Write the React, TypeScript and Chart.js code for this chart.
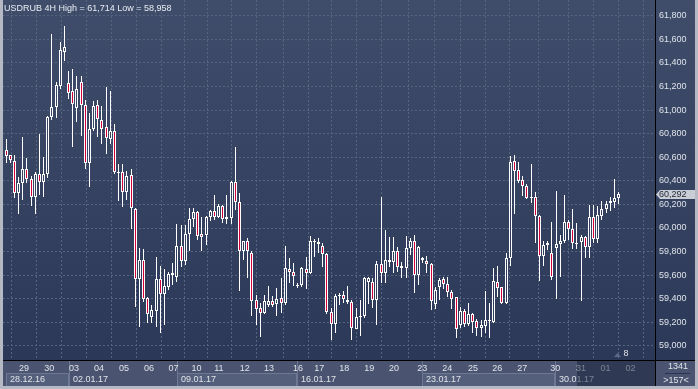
import { useEffect, useRef } from "react";
import { Chart, registerables } from "chart.js";

Chart.register(...registerables);

// ---- data (4H candles, USDRUB) ----
const FIRST_INDEX = -1;
const opens = [
  60650,
  60659, 60616, 60566, 60294, 60379, 60500, 60413, 60260, 60455, 60388,
  60455, 60944, 61023, 61206, 61495, 61227, 61162, 61015, 61235, 61040,
  60554, 60839, 61040, 60913, 60854, 60757, 60820, 60472, 60472, 60303,
  60449, 60161, 59565, 59729, 59404, 59243, 59299, 59565, 59438, 59503,
  59602, 59582, 59848, 59723, 59947, 60074, 60136, 59947, 59938, 60096,
  60144, 60096, 60187, 60074, 60082, 60388, 60218, 59808, 59890, 59786,
  59390, 59320, 59277, 59347, 59381, 59353, 59407, 59362, 59653, 59625,
  59517, 59517, 59653, 59621, 59890, 59884, 59848, 59777, 59286, 59184,
  59428, 59432, 59390, 59370, 59144, 59243, 59257, 59540, 59540, 59390,
  59692, 59616, 59729, 59715, 59805, 59678, 59659, 59828, 59890, 59602,
  59748, 59720, 59692, 59353, 59503, 59565, 59525, 59455, 59413, 59178,
  59297, 59184, 59271, 59212, 59150, 59172, 59216, 59206, 59540, 59498,
  59362, 59743, 60568, 60492, 60407, 60356, 60252, 60266, 60104, 59765,
  59856, 59786, 59828, 59862, 59890, 60054, 59989, 59862, 59884, 59921,
  59837, 60096, 59907, 60102, 60159, 60210, 60223, 60252,
];
const highs = [
  60690,
  60755, 60622, 60619, 60430, 60769, 60596, 60441, 60472, 60797, 60605,
  60950, 61645, 61238, 61574, 61714, 61331, 61348, 61289, 61289, 61085,
  60978, 61079, 61085, 61034, 61196, 61162, 60882, 60543, 60543, 60483,
  60500, 60170, 59828, 59822, 59415, 59347, 59757, 59681, 59650, 59630,
  59701, 60034, 60026, 60026, 60167, 60167, 60144, 60096, 60102, 60153,
  60280, 60204, 60195, 60280, 60399, 60687, 60294, 59893, 59913, 59805,
  59432, 59362, 59432, 59509, 59424, 59489, 59579, 59848, 59748, 59701,
  59537, 59672, 59752, 59932, 59904, 59913, 59870, 59786, 59320, 59441,
  59447, 59469, 59509, 59390, 59320, 59390, 59587, 59587, 59574, 59720,
  60266, 59983, 59921, 59921, 59842, 59715, 59932, 59913, 59941, 59848,
  59757, 59763, 59701, 59503, 59579, 59587, 59587, 59475, 59418, 59333,
  59311, 59367, 59282, 59226, 59220, 59466, 59362, 59664, 59678, 59502,
  59786, 60613, 60619, 60557, 60444, 60373, 60540, 60308, 60110, 59893,
  59890, 60054, 60314, 59941, 60280, 60068, 60159, 60040, 59941, 59932,
  60195, 60195, 60187, 60232, 60232, 60260, 60413, 60308,
];
const lows = [
  60630,
  60554, 60549, 60255, 60116, 60238, 60382, 60189, 60116, 60280, 60266,
  60422, 60916, 60935, 61179, 61418, 61094, 60689, 60901, 60783, 60500,
  60350, 60822, 60769, 60712, 60628, 60712, 60458, 60232, 60181, 60238,
  59992, 59333, 59164, 59375, 59192, 59197, 59164, 59108, 59178, 59475,
  59517, 59545, 59672, 59687, 59808, 60006, 59898, 59808, 59856, 60062,
  60068, 60082, 60045, 60034, 60034, 60153, 59469, 59729, 59579, 59254,
  59178, 59079, 59270, 59328, 59333, 59257, 59277, 59347, 59531, 59509,
  59494, 59503, 59481, 59610, 59757, 59786, 59672, 59271, 59051, 59113,
  59347, 59362, 59356, 59051, 59141, 59085, 59235, 59356, 59320, 59178,
  59531, 59531, 59672, 59616, 59630, 59574, 59574, 59771, 59447, 59517,
  59701, 59616, 59305, 59311, 59390, 59481, 59418, 59311, 59065, 59150,
  59164, 59170, 59113, 59085, 59079, 59113, 59065, 59197, 59418, 59356,
  59356, 59678, 60119, 60379, 60271, 60243, 60215, 59870, 59553, 59678,
  59814, 59559, 59398, 59587, 59876, 59898, 59820, 59820, 59384, 59748,
  59748, 59870, 59870, 60068, 60125, 60147, 60167, 60204,
];
const closes = [
  60680,
  60613, 60574, 60294, 60379, 60500, 60413, 60260, 60455, 60388, 60455,
  60941, 61023, 61212, 61509, 61532, 61142, 61049, 61176, 61040, 60554,
  60837, 61032, 60922, 60842, 60761, 60820, 60472, 60470, 60303, 60438,
  60167, 59565, 59729, 59396, 59271, 59305, 59565, 59438, 59509, 59608,
  59616, 59850, 59723, 59947, 60074, 60136, 59932, 59926, 60096, 60144,
  60096, 60187, 60076, 60091, 60388, 60223, 59805, 59890, 59805, 59384,
  59311, 59277, 59381, 59381, 59347, 59398, 59362, 59664, 59625, 59596,
  59519, 59659, 59621, 59890, 59888, 59862, 59777, 59286, 59184, 59426,
  59432, 59396, 59370, 59150, 59243, 59257, 59574, 59579, 59390, 59692,
  59616, 59729, 59715, 59805, 59672, 59659, 59828, 59890, 59602, 59842,
  59729, 59692, 59381, 59475, 59559, 59525, 59460, 59398, 59141, 59297,
  59184, 59271, 59206, 59150, 59178, 59220, 59214, 59551, 59494, 59362,
  59743, 60562, 60486, 60401, 60356, 60252, 60266, 60104, 59765, 59856,
  59870, 59587, 59862, 59890, 60054, 59989, 59870, 59870, 59921, 59837,
  60096, 59907, 60110, 60159, 60204, 60229, 60252, 60292,
];

// ---- axis labels ----
const yTicks = [59000, 59200, 59400, 59600, 59800, 60000, 60200, 60400, 60600, 60800, 61000, 61200, 61400, 61600, 61800];
const dayLabels = ["29", "30", "03", "04", "05", "06", "07", "10", "11", "12", "13", "16", "17", "18", "19", "20", "23", "24", "25", "26", "27", "30", "31", "01", "02"];
const dayTickPos = [4.3, 10.4, 16.3, 22.3, 28.3, 34.3, 40.2, 45.7, 51.1, 57.3, 63.1, 70.1, 75.2, 81.2, 87.2, 93.1, 99.9, 105.9, 112.1, 117.9, 123.9, 131.8, 138.0, 143.9, 149.9];
const weekLabels = ["28.12.16", "02.01.17", "09.01.17", "16.01.17", "23.01.17", "30.01.17"];
const weekStarts = [0, 15.2, 41.1, 69.8, 99.9, 131.7];
const TITLE = "USDRUB 4H High = 61,714 Low = 58,958";
const BAR_COUNT_TEXT = "1341";
const VISIBLE_TEXT = ">157<";
const SHIFT_TEXT = "8";
const SHADE_FROM = 136.95;

const X_MIN = -0.72;
const X_MAX = 155.75;
const Y_MIN = 58881;
const Y_MAX = 61933;

// ---- styles ----
const FONT = "'Liberation Sans', Arial, sans-serif";
const BG_TOP = "#3f4d6b";
const BG_BOTTOM = "#2c3857";
const AXIS_BG = "#4a5470";
const BOX_BG = "#545f7b";
const SEP = "#6e7892";
const FRAME = "#b4b9c3";
const RED = "#d2003a";
const GRID = "#56647f";
const TXT = "#dfe3ea";
const BODY_W = 3;
const WICK_W = 1;

function bgGradient(chart: any) {
  const { ctx } = chart;
  const g = ctx.createLinearGradient(0, 0, 0, 360);
  g.addColorStop(0, BG_TOP);
  g.addColorStop(1, BG_BOTTOM);
  return g;
}

const xs = opens.map((_, i) => i + FIRST_INDEX);

const decor = {
  id: "decor",
  beforeDraw(chart: any) {
    const { ctx, chartArea } = chart;
    const xS = chart.scales.x;
    const W = chart.width, H = chart.height;
    const right = chartArea.right;
    const bottom = chartArea.bottom;
    ctx.save();
    ctx.fillStyle = FRAME;
    ctx.fillRect(0, 0, W, H);
    ctx.fillStyle = bgGradient(chart);
    ctx.fillRect(3, 0, W - 6, bottom);
    ctx.fillStyle = AXIS_BG;
    ctx.fillRect(3, bottom, W - 6, H - 3 - bottom);
    // week boxes
    weekStarts.forEach((ws, i) => {
      const x0 = Math.round(xS.getPixelForValue(ws));
      const x1 = i + 1 < weekStarts.length ? Math.round(xS.getPixelForValue(weekStarts[i + 1])) : right;
      if (i % 2 === 0) {
        ctx.fillStyle = BOX_BG;
        ctx.fillRect(x0, bottom + 13, x1 - x0, H - 3 - bottom - 13);
        ctx.strokeStyle = SEP;
        ctx.lineWidth = 1;
        ctx.beginPath();
        ctx.moveTo(x0 + 0.5, H - 3);
        ctx.lineTo(x0 + 0.5, bottom + 13.5);
        ctx.lineTo(x1 - 0.5, bottom + 13.5);
        ctx.lineTo(x1 - 0.5, H - 3);
        ctx.stroke();
      }
      if (i > 0) {
        ctx.strokeStyle = SEP;
        ctx.beginPath();
        ctx.moveTo(x0 + 0.5, bottom);
        ctx.lineTo(x0 + 0.5, H - 3);
        ctx.stroke();
      }
    });
    ctx.restore();
  },
  beforeDatasetsDraw(chart: any) {
    chart.data.datasets.forEach((_: any, di: number) => {
      const meta = chart.getDatasetMeta(di);
      const w = di === 0 ? BODY_W : WICK_W;
      meta.data.forEach((el: any) => {
        el.width = w;
        el.x = Math.round(el.x - 0.5) + 0.5;
        const y = Math.round(el.y);
        let b = Math.round(el.base);
        if (y === b) b = y + 1;
        el.y = y;
        el.base = b;
      });
    });
  },
  afterDraw(chart: any) {
    const { ctx, chartArea } = chart;
    const xS = chart.scales.x;
    const yS = chart.scales.y;
    const W = chart.width, H = chart.height;
    const right = chartArea.right;
    const bottom = chartArea.bottom;
    ctx.save();
    ctx.font = `9px ${FONT}`;
    ctx.textBaseline = "middle";
    ctx.textAlign = "left";
    ctx.fillStyle = TXT;
    weekStarts.forEach((ws, i) => {
      const x0 = Math.round(xS.getPixelForValue(ws));
      ctx.fillText(weekLabels[i], x0 + 4, bottom + 20);
    });
    // shaded zone on the time axis
    const sx = Math.round(xS.getPixelForValue(SHADE_FROM));
    ctx.fillStyle = "rgba(20,30,55,0.5)";
    ctx.fillRect(sx, bottom + 1, right - sx, H - 4 - bottom);
    // bottom-right info box
    ctx.fillStyle = AXIS_BG;
    ctx.fillRect(right + 1, bottom + 1, W - 4 - right, H - 4 - bottom);
    ctx.fillStyle = TXT;
    ctx.textAlign = "center";
    ctx.fillText(BAR_COUNT_TEXT, right + 23, bottom + 7);
    ctx.fillText(VISIBLE_TEXT, right + 21, bottom + 20.5);
    ctx.strokeStyle = "#2a3350";
    ctx.beginPath();
    ctx.moveTo(right + 10, bottom + 13.5);
    ctx.lineTo(right + 35, bottom + 13.5);
    ctx.stroke();
    // chart shift marker
    ctx.fillStyle = "#5d6987";
    ctx.beginPath();
    ctx.moveTo(right - 41, bottom - 3);
    ctx.lineTo(right - 34, bottom - 3);
    ctx.lineTo(right - 37.5, bottom - 7);
    ctx.closePath();
    ctx.fill();
    ctx.fillStyle = TXT;
    ctx.fillText(SHIFT_TEXT, right - 29, bottom - 6);
    // last price label
    const lastClose = closes[closes.length - 1];
    const py = Math.round(yS.getPixelForValue(lastClose)) + 0.5;
    ctx.fillStyle = "#c9cdd5";
    ctx.beginPath();
    ctx.moveTo(right + 1, py);
    ctx.lineTo(right + 5, py - 4.5);
    ctx.lineTo(W - 3, py - 4.5);
    ctx.lineTo(W - 3, py + 4.5);
    ctx.lineTo(right + 5, py + 4.5);
    ctx.closePath();
    ctx.fill();
    ctx.fillStyle = "#1e2433";
    ctx.textAlign = "left";
    ctx.fillText(lastClose.toLocaleString("en-US"), right + 4, py);
    // title
    ctx.fillStyle = "#e8ecf2";
    ctx.textBaseline = "alphabetic";
    ctx.fillText(TITLE, 4, 11);
    // separators
    ctx.strokeStyle = "#000000";
    ctx.lineWidth = 1;
    ctx.beginPath();
    ctx.moveTo(right + 0.5, 0);
    ctx.lineTo(right + 0.5, H - 3);
    ctx.moveTo(3, bottom + 0.5);
    ctx.lineTo(W - 3, bottom + 0.5);
    ctx.stroke();
    ctx.restore();
  },
};

export default function App() {
  const ref = useRef<HTMLCanvasElement>(null);
  useEffect(() => {
    const prev = document.body.style.margin;
    document.body.style.margin = "0";
    const chart = new Chart(ref.current as HTMLCanvasElement, {
      type: "bar",
      data: {
        datasets: [
          {
            label: "body",
            data: xs.map((x, i) => ({ x, y: [opens[i], closes[i]] })) as any,
            backgroundColor: (c: any) => {
              const i = c.dataIndex;
              if (i !== undefined && closes[i] < opens[i]) return RED;
              return bgGradient(c.chart);
            },
            borderColor: "#ffffff",
            borderWidth: 1,
            borderSkipped: false,
            barThickness: BODY_W,
            maxBarThickness: BODY_W,
            grouped: false,
            inflateAmount: 0,
            order: 0,
            clip: 0,
          } as any,
          {
            label: "wick",
            data: xs.map((x, i) => ({ x, y: [lows[i], highs[i]] })) as any,
            backgroundColor: "#ffffff",
            borderWidth: 0,
            barThickness: WICK_W,
            maxBarThickness: WICK_W,
            grouped: false,
            inflateAmount: 0,
            order: 1,
            clip: 0,
          } as any,
        ],
      },
      options: {
        responsive: false,
        animation: false,
        events: [],
        layout: { padding: { left: 3, right: 3, top: 0, bottom: 3 } },
        plugins: { legend: { display: false }, tooltip: { enabled: false } },
        scales: {
          x: {
            type: "linear",
            min: X_MIN,
            max: X_MAX,
            offset: false,
            grid: { color: GRID, drawTicks: false, lineWidth: 1 },
            border: { display: false, dash: [2, 2] },
            ticks: {
              autoSkip: false,
              maxRotation: 0,
              minRotation: 0,
              padding: 3,
              color: TXT,
              font: { family: FONT, size: 9 },
              callback: (_v: any, i: number) => dayLabels[i] ?? "",
            },
            afterBuildTicks: (s: any) => {
              s.ticks = dayTickPos.map((v) => ({ value: v }));
            },
            afterFit: (s: any) => {
              s.height = 26;
              s.paddingLeft = 0;
              s.paddingRight = 0;
            },
          },
          y: {
            type: "linear",
            position: "right",
            min: Y_MIN,
            max: Y_MAX,
            grid: { color: GRID, drawTicks: false, lineWidth: 1 },
            border: { display: false, dash: [2, 2] },
            ticks: {
              padding: 4,
              color: TXT,
              font: { family: FONT, size: 9 },
              callback: (v: any) => Number(v).toLocaleString("en-US"),
            },
            afterBuildTicks: (s: any) => {
              s.ticks = yTicks.map((v) => ({ value: v }));
            },
            afterFit: (s: any) => {
              s.width = 40;
              s.paddingTop = 0;
              s.paddingBottom = 0;
            },
          },
        },
      } as any,
      plugins: [decor],
    });
    return () => {
      chart.destroy();
      document.body.style.margin = prev;
    };
  }, []);
  return <canvas ref={ref} width={698} height={389} style={{ display: "block" }} />;
}
